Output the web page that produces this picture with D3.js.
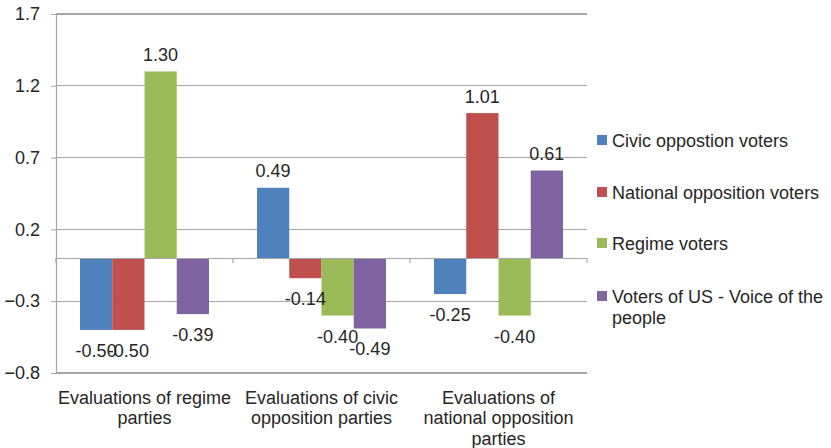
<!DOCTYPE html>
<html><head><meta charset="utf-8">
<script src="https://cdn.jsdelivr.net/npm/d3@7"></script>
<style>body{margin:0;background:#fff}svg{display:block}text{font-family:"Liberation Sans",Arial,sans-serif;fill:#262626}</style>
</head><body><svg id="c" width="831" height="448"></svg>
<script>
const categories = [["Evaluations of regime","parties"],["Evaluations of civic","opposition parties"],["Evaluations of","national opposition","parties"]];
const seriesNames = ["Civic oppostion voters","National opposition voters","Regime voters","Voters of US - Voice of the people"];
const seriesColors = ["#4F81BD","#C0504D","#9BBB59","#8064A2"];
const civic = [-0.50, 0.49, -0.25];
const national = [-0.50, -0.14, 1.01];
const regime = [1.30, -0.40, -0.40];
const voiceOfPeople = [-0.39, -0.49, 0.61];
const yTicks = [-0.8, -0.3, 0.2, 0.7, 1.2, 1.7];
const values = [civic, national, regime, voiceOfPeople];

const FS = 18;
const svg = d3.select("#c");
const L = 56, R = 587, T = 14, B = 373;
const y = d3.scaleLinear().domain([-0.8, 1.7]).range([B, T]);
const x0 = d3.scaleBand().domain(d3.range(categories.length)).range([L, R]).paddingInner(0).paddingOuter(0);
const x1 = d3.scaleBand().domain(d3.range(seriesNames.length)).range([24, x0.bandwidth() - 24]);

// gridlines
svg.append("g").selectAll("line").data(yTicks).join("line")
  .attr("x1", L).attr("x2", R).attr("y1", d => y(d)).attr("y2", d => y(d))
  .attr("stroke", "#A6A6A6").attr("stroke-width", 1.2).attr("shape-rendering","crispEdges");

// y axis
const yAxis = d3.axisLeft(y).tickValues(yTicks).tickSize(5).tickPadding(11).tickFormat(d3.format(".1f"));
const ya = svg.append("g").attr("transform", `translate(${L},0)`).call(yAxis);
ya.select(".domain").attr("stroke", "#A6A6A6").attr("stroke-width",1.2);
ya.selectAll(".tick line").attr("stroke", "#A6A6A6");
ya.selectAll("text").attr("font-size", FS).style("font-family","Liberation Sans, Arial, sans-serif").attr("fill","#262626");

// bars
const g = svg.append("g");
values.forEach((arr, s) => {
  g.selectAll(".b" + s).data(arr).join("rect")
    .attr("x", (d, i) => x0(i) + x1(s))
    .attr("width", x1.bandwidth())
    .attr("y", d => y(Math.max(0, d)))
    .attr("height", d => Math.abs(y(d) - y(0)))
    .attr("fill", seriesColors[s]);
});

// category axis at zero
svg.append("line").attr("x1", L).attr("x2", R).attr("y1", y(0)).attr("y2", y(0))
  .attr("stroke", "#A6A6A6").attr("stroke-width", 1.2).attr("shape-rendering","crispEdges");
const bounds = d3.range(categories.length + 1).map(i => L + i * x0.bandwidth());
svg.append("g").selectAll("line").data(bounds).join("line")
  .attr("x1", d => d).attr("x2", d => d).attr("y1", y(0)).attr("y2", y(0) + 5)
  .attr("stroke", "#A6A6A6").attr("stroke-width", 1.2);

// value labels
values.forEach((arr, s) => {
  g.selectAll(".l" + s).data(arr).join("text")
    .attr("x", (d, i) => x0(i) + x1(s) + x1.bandwidth() / 2)
    .attr("y", d => d >= 0 ? y(d) - 10.5 : y(d) + 27)
    .attr("text-anchor", "middle").attr("font-size", FS)
    .text(d => d.toFixed(2));
});

// category labels
categories.forEach((lines, i) => {
  const t = svg.append("text").attr("text-anchor", "middle").attr("font-size", FS)
    .attr("x", x0(i) + x0.bandwidth() / 2).attr("y", 403.5);
  lines.forEach((ln, k) => t.append("tspan").attr("x", x0(i) + x0.bandwidth() / 2).attr("dy", k ? 20.5 : 0).text(ln));
});

// legend
const legY = [140, 192, 243, 296];
const legLines = [["Civic oppostion voters"],["National opposition voters"],["Regime voters"],["Voters of US - Voice of the","people"]];
seriesNames.forEach((n, s) => {
  svg.append("rect").attr("x", 597).attr("y", legY[s] - 5).attr("width", 10).attr("height", 10).attr("fill", seriesColors[s]);
  const t = svg.append("text").attr("x", 612).attr("y", legY[s] + 6.5).attr("font-size", FS);
  legLines[s].forEach((ln, k) => t.append("tspan").attr("x", 612).attr("dy", k ? 21 : 0).text(ln));
});
</script></body></html>
